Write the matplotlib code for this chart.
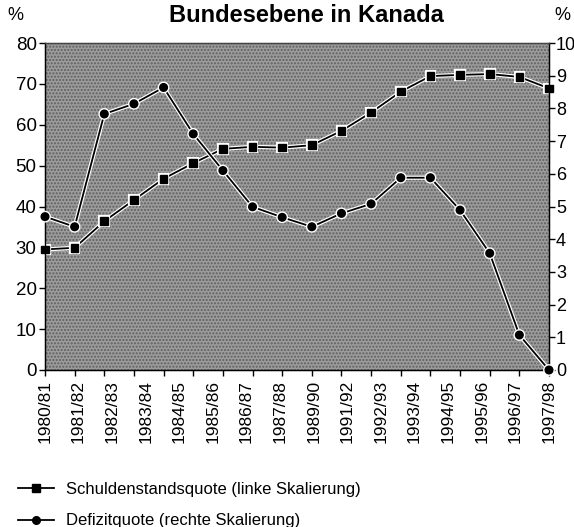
import numpy as np
import matplotlib
matplotlib.use("Agg")
import matplotlib.pyplot as plt
import matplotlib.patheffects as pe
from matplotlib.lines import Line2D

plt.rcParams['font.family'] = ['Liberation Sans', 'DejaVu Sans']

# 18 data points, but the original only prints 16 year labels
year_labels = ['1980/81', '1981/82', '1982/83', '1983/84', '1984/85', '1985/86',
               '1986/87', '1987/88', '1989/90', '1991/92', '1992/93', '1993/94',
               '1994/95', '1995/96', '1996/97', '1997/98']
schulden = [29.5, 29.9, 36.4, 41.6, 46.8, 50.6, 54.1, 54.6, 54.4,
            55.0, 58.5, 63.0, 68.1, 71.9, 72.2, 72.4, 71.7, 68.9]
defizit = [4.69, 4.38, 7.83, 8.14, 8.64, 7.22, 6.10, 4.99, 4.67,
           4.38, 4.79, 5.08, 5.88, 5.88, 4.89, 3.57, 1.07, 0.0]

n = len(schulden)
x = np.arange(n)

fig = plt.figure(figsize=(5.74, 5.27), dpi=100)
ax = fig.add_axes([45 / 574, 1 - 370 / 527, 504 / 574, 327 / 527])
ax2 = ax.twinx()

ax.set_facecolor('#9c9c9c')
ax.patch.set_hatch('.....')
ax.patch.set_edgecolor('#5e5e5e')
ax.patch.set_linewidth(0)

halo = [pe.Stroke(linewidth=3, foreground='white'), pe.Normal()]

ax.plot(x, schulden, color='black', lw=1.3, marker='s', ms=5.5,
        markeredgecolor='black', path_effects=halo, zorder=3, clip_on=False)
ax2.plot(x, defizit, color='black', lw=1.3, marker='o', ms=5.5,
         markeredgecolor='black', path_effects=halo, zorder=3, clip_on=False)

ax.set_xlim(0, n - 1)
ax.set_ylim(0, 80)
ax2.set_ylim(0, 10)
ax.set_yticks(np.arange(0, 81, 10))
ax2.set_yticks(np.arange(0, 11, 1))

ax.set_xticks(x)
ax.set_xticklabels([])
ax.tick_params(axis='x', length=4, width=1)
ax.tick_params(axis='y', length=4, width=1, labelsize=13.5, pad=2)
ax2.tick_params(axis='y', length=4, width=1, labelsize=13, pad=1)

label_pos = np.linspace(0, n - 1, len(year_labels))
for p, lab in zip(label_pos, year_labels):
    ax.text(p, -0.03, lab, transform=ax.get_xaxis_transform(), rotation=90,
            ha='center', va='top', fontsize=12.5)

for s in ['left', 'right', 'bottom', 'top']:
    ax2.spines[s].set_linewidth(1)
ax2.spines['top'].set_color('#444444')

fig.text(306 / 574, 1 - 15 / 527, 'Bundesebene in Kanada', ha='center',
         va='center', fontsize=17, fontweight='bold')
fig.text(15 / 574, 1 - 16 / 527, '%', ha='center', va='center', fontsize=13)
fig.text(562 / 574, 1 - 16 / 527, '%', ha='center', va='center', fontsize=13)

h1 = Line2D([], [], color='black', lw=1.3, marker='s', ms=5.5)
h2 = Line2D([], [], color='black', lw=1.3, marker='o', ms=5.5)
fig.legend([h1, h2], ['Schuldenstandsquote (linke Skalierung)',
                      'Defizitquote (rechte Skalierung)'],
           loc='upper left', bbox_to_anchor=(11 / 574, 1 - 475 / 527),
           frameon=False, fontsize=12, handlelength=2.2, labelspacing=1.0,
           handletextpad=0.7, borderaxespad=0)

fig.savefig('out.png', dpi=100)
